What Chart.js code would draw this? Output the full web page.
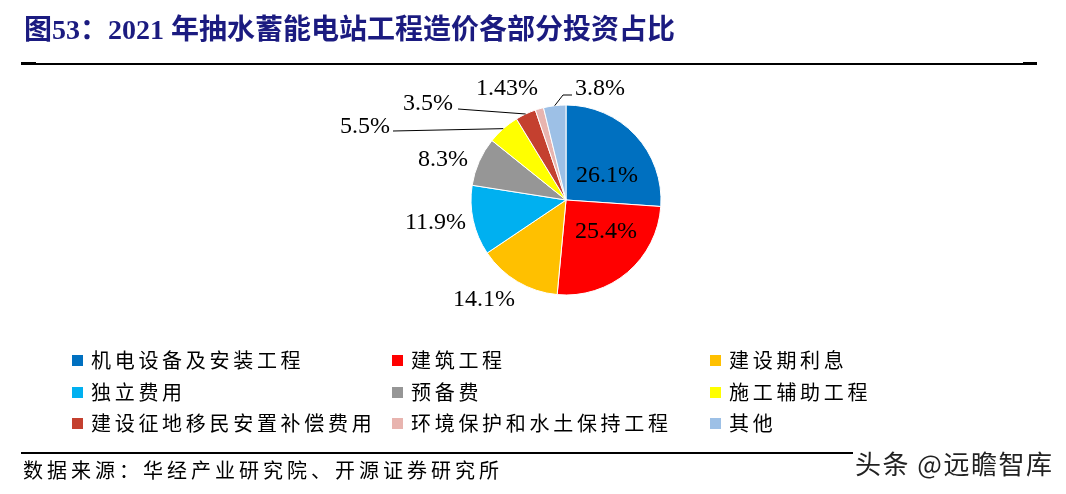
<!DOCTYPE html>
<html>
<head>
<meta charset="utf-8">
<script src="https://cdn.jsdelivr.net/npm/chart.js@4.4.1/dist/chart.umd.min.js"></script>
<style>
  html, body { margin:0; padding:0; background:#fff; }
  #wrap { position:relative; width:1066px; height:494px; overflow:hidden; background:#fff; }
  #c { position:absolute; left:0; top:0; }
  .title { position:absolute; left:24px; top:14px; font:bold 28px "Liberation Serif","Noto Sans CJK SC",serif; color:#1b1b80; white-space:nowrap; line-height:32px; }
  .hline { position:absolute; background:#000; }
  .legend { position:absolute; left:72px; top:348px; }
  .li { position:absolute; white-space:nowrap; font:20px "Noto Sans CJK SC","Liberation Serif",serif; letter-spacing:3.7px; color:#000; line-height:24px; }
  .li i { display:inline-block; width:11px; height:11px; margin-right:8px; vertical-align:middle; position:relative; top:-2px; }
  .src { position:absolute; left:23px; top:457px; font:20px "Noto Sans CJK SC",serif; letter-spacing:4px; color:#000; white-space:nowrap; line-height:26px; }
  .wm { position:absolute; left:853px; top:446px; width:213px; height:36px; background:#fff; font:26px "Noto Sans CJK SC",sans-serif; color:#222; letter-spacing:1.5px; white-space:nowrap; line-height:34px; padding-left:2px; text-shadow:0 0 2px #fff; }
</style>
</head>
<body>
<div id="wrap">
  <canvas id="c" width="1066" height="494"></canvas>
  <div class="title" id="title"></div>
  <div class="hline" style="left:21px;top:63px;width:1015px;height:1.5px;"></div>
  <div class="hline" style="left:21px;top:62px;width:15px;height:3px;"></div>
  <div class="hline" style="left:1023px;top:62px;width:14px;height:3px;"></div>
  <div class="legend" id="legend"></div>
  <div class="hline" style="left:21px;top:452px;width:1015px;height:2px;"></div>
  <div class="src" id="src"></div>
  <div class="wm" id="wm"></div>
</div>
<script>
const titleText = '图53：2021 年抽水蓄能电站工程造价各部分投资占比';
const sourceText = '数据来源：华经产业研究院、开源证券研究所';
const watermarkText = '头条 @远瞻智库';
const categories = ['机电设备及安装工程','建筑工程','建设期利息','独立费用','预备费','施工辅助工程','建设征地移民安置补偿费用','环境保护和水土保持工程','其他'];
const shares = [26.1, 25.4, 14.1, 11.9, 8.3, 5.5, 3.5, 1.43, 3.8];
const shareLabels = ['26.1%','25.4%','14.1%','11.9%','8.3%','5.5%','3.5%','1.43%','3.8%'];
const sliceColors = ['#0070C0','#FF0000','#FFC000','#00B0F0','#969696','#FFFF00','#C4402F','#E8B4AF','#9DC0E6'];

document.getElementById('title').textContent = titleText;
document.getElementById('src').textContent = sourceText;
document.getElementById('wm').textContent = watermarkText;

// legend (3 columns, row-major)
const colX = [0, 320, 638];
const rowY = [0, 31.5, 63];
const leg = document.getElementById('legend');
categories.forEach((name, i) => {
  const d = document.createElement('div');
  d.className = 'li';
  d.style.left = colX[i % 3] + 'px';
  d.style.top = rowY[Math.floor(i / 3)] + 'px';
  const m = document.createElement('i');
  m.style.background = sliceColors[i];
  d.appendChild(m);
  d.appendChild(document.createTextNode(name));
  leg.appendChild(d);
});

// label layout relative to pie centre, in pixels for a radius of 95
const labelLayout = [
  {dx: 41, dy: -24},
  {dx: 40, dy: 32},
  {dx: -82, dy: 100},
  {dx: -130.5, dy: 23},
  {dx: -123, dy: -40},
  {dx: -201, dy: -73, leader: [[-173, -69]]},
  {dx: -138, dy: -96, leader: [[-108, -91]]},
  {dx: -59, dy: -111},
  {dx: 34, dy: -111, leader: [[-3, -105], [6, -105]]}
];

const labelPlugin = {
  id: 'sliceLabels',
  afterDatasetsDraw(chart) {
    const ctx = chart.ctx;
    const meta = chart.getDatasetMeta(0);
    ctx.save();
    ctx.font = '24px "Liberation Serif", "Times New Roman", serif';
    ctx.fillStyle = '#000';
    ctx.textAlign = 'center';
    ctx.textBaseline = 'middle';
    meta.data.forEach((arc, i) => {
      const p = arc.getProps(['x','y','startAngle','endAngle','outerRadius'], true);
      const k = p.outerRadius / 95;
      const L = labelLayout[i];
      if (L.leader) {
        const mid = (p.startAngle + p.endAngle) / 2;
        ctx.beginPath();
        ctx.strokeStyle = '#000';
        ctx.lineWidth = 1;
        ctx.moveTo(p.x + p.outerRadius * Math.cos(mid), p.y + p.outerRadius * Math.sin(mid));
        L.leader.forEach(pt => ctx.lineTo(p.x + pt[0] * k, p.y + pt[1] * k));
        ctx.stroke();
      }
      ctx.fillText(shareLabels[i], p.x + L.dx * k, p.y + L.dy * k);
    });
    ctx.restore();
  }
};

new Chart(document.getElementById('c'), {
  type: 'pie',
  data: {
    labels: categories,
    datasets: [{
      data: shares,
      backgroundColor: sliceColors,
      borderColor: '#ffffff',
      borderWidth: 1
    }]
  },
  options: {
    responsive: false,
    animation: false,
    layout: { padding: { left: 470.5, right: 404.5, top: 104.5, bottom: 198.5 } },
    plugins: { legend: { display: false }, tooltip: { enabled: false } }
  },
  plugins: [labelPlugin]
});
</script>
</body>
</html>
